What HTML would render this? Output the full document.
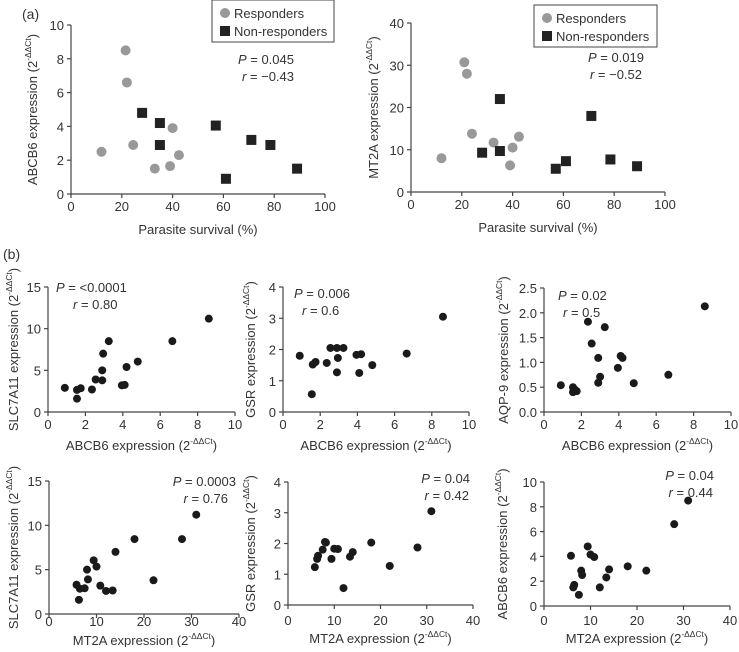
<!DOCTYPE html>
<html><head><meta charset="utf-8"><style>
body{margin:0;background:#fff;}
svg text{font-family:"Liberation Sans","DejaVu Sans",sans-serif;fill:#333;}
</style></head><body>
<svg id="fig" width="739" height="647" viewBox="0 0 739 647" xmlns="http://www.w3.org/2000/svg"></svg>
<script>
// Panel A1 data
const a1RespX=[12,21.5,22,24.5,33,39,40,42.5];
const a1RespY=[2.5,8.5,6.6,2.9,1.5,1.65,3.9,2.3];
const a1NonX=[28,35,35,57,61,71,78.5,89];
const a1NonY=[4.8,4.2,2.9,4.05,0.9,3.2,2.9,1.5];
const a1XTicks=[0,20,40,60,80,100];
const a1YTicks=[0,2,4,6,8,10];
// Panel A2 data
const a2RespX=[12,21,22,24,32.5,39,40,42.5];
const a2RespY=[8,30.7,28,13.8,11.7,6.3,10.5,13.1];
const a2NonX=[28,35,35,57,61,71,78.5,89];
const a2NonY=[9.3,22,9.7,5.5,7.3,18,7.7,6.1];
const a2XTicks=[0,20,40,60,80,100];
const a2YTicks=[0,10,20,30,40];
// Panel B
const abcb6=[0.9,1.55,1.55,1.75,2.35,2.55,2.9,2.9,2.95,3.25,3.95,4.1,4.2,4.8,6.65,8.6];
const b1Slc=[2.9,2.65,1.6,2.85,2.7,3.9,5,3.8,7,8.5,3.2,3.25,5.4,6.05,8.5,11.2];
const b2X=[0.9,1.55,1.6,1.75,2.35,2.55,2.9,2.9,2.95,3.25,3.95,4.2,4.1,4.8,6.65,8.6];
const b2Gsr=[1.8,0.57,1.52,1.6,1.57,2.05,2.05,1.27,1.73,2.05,1.83,1.85,1.25,1.5,1.87,3.05];
const b3X=[0.9,1.55,1.55,1.75,1.65,2.35,2.55,2.9,2.9,3.0,3.25,3.95,4.1,4.2,4.8,6.65,8.6];
const b3Aqp=[0.54,0.5,0.4,0.42,0.45,1.82,1.38,1.09,0.59,0.71,1.71,0.89,1.13,1.09,0.58,0.75,2.13];
const bXTicks=[0,2,4,6,8,10];
const b1YTicks=[0,5,10,15];
const b2YTicks=[0,1,2,3,4];
const b3YTicks=["0.0","0.5","1.0","1.5","2.0","2.5"];
// Panel C
const mt2a=[5.8,6.3,6.5,7.5,8,8.2,9.4,10,10.8,12,13.4,14,18,22,28,31];
const c1Slc=[3.3,1.6,2.85,2.9,5,3.9,6.05,5.35,3.2,2.6,2.65,7,8.45,3.8,8.45,11.2];
const c2Gsr=[1.23,1.5,1.6,1.8,2.05,2.03,1.5,1.83,1.82,0.55,1.57,1.72,2.03,1.27,1.87,3.05];
const c3Abcb6=[4.05,1.5,1.7,0.9,2.85,2.5,4.8,4.15,3.95,1.5,2.3,2.95,3.2,2.85,6.6,8.5];
const cXTicks=[0,10,20,30,40];
const c1YTicks=[0,5,10,15];
const c2YTicks=[0,1,2,3,4];
const c3YTicks=[0,2,4,6,8,10];

const NS="http://www.w3.org/2000/svg";
const svg=document.getElementById('fig');
function mk(tag,attrs,parent,text){const e=document.createElementNS(NS,tag);for(const k in attrs)e.setAttribute(k,attrs[k]);if(text!==undefined)e.textContent=text;(parent||svg).appendChild(e);return e;}
function expTitle(parent,x,y,name,rot,size){
  const t=mk('text',{x:x,y:y,'font-size':size,'text-anchor':'middle',transform:rot?`rotate(-90 ${x} ${y})`:''},parent);
  mk('tspan',{},t,name+' (2');
  mk('tspan',{dy:-6,'font-size':size*0.65},t,'-ΔΔCt');
  mk('tspan',{dy:6},t,')');
  return t;
}
function panel(name,o){
  const g=mk('g',{});
  
  
  const sx=v=>o.x0+(v-o.xmin)/(o.xmax-o.xmin)*(o.x1-o.x0);
  const sy=v=>o.y0-(v-o.ymin)/(o.ymax-o.ymin)*(o.y0-o.y1);
  const ax=mk('g',{stroke:'#444','stroke-width':1.2},g);
  
  
  mk('line',{x1:o.x0,y1:o.y0,x2:o.x1,y2:o.y0},ax);
  mk('line',{x1:o.x0,y1:o.y0,x2:o.x0,y2:o.y1},ax);
  const xlb=o.xlb!==undefined?o.xlb:o.y0+17;
  o.xt.forEach(t=>{const v=+t;mk('line',{x1:sx(v),y1:o.y0,x2:sx(v),y2:o.y0+4},ax);
    const l=mk('text',{x:sx(v),y:xlb,'font-size':o.fs,'text-anchor':'middle'},g,String(t));
    
    });
  o.yt.forEach(t=>{const v=+t;mk('line',{x1:o.x0-4,y1:sy(v),x2:o.x0,y2:sy(v)},ax);
    const l=mk('text',{x:o.x0-7,y:sy(v)+5,'font-size':o.fs,'text-anchor':'end'},g,String(t));
    
    });
  o.series.forEach(s=>{
    s.x.forEach((xv,i)=>{
      let m;
      if(s.shape==='sq'){const h=s.r;m=mk('rect',{x:sx(xv)-h,y:sy(s.y[i])-h,width:2*h,height:2*h,fill:s.c},g);}
      else m=mk('circle',{cx:sx(xv),cy:sy(s.y[i]),r:s.r,fill:s.c},g);
      
      
    });
  });
  const xt=o.xtitle[0]==='exp'?expTitle(g,(o.x0+o.x1)/2,o.xty,o.xtitle[1],false,o.tfs):mk('text',{x:(o.x0+o.x1)/2,y:o.xty,'font-size':o.tfs,'text-anchor':'middle'},g,o.xtitle[1]);
  
  
  const yt=expTitle(g,o.ytx,(o.y0+o.y1)/2,o.ytitle,true,o.tfs);
  
  
  const st=mk('text',{x:o.px,y:o.py,'font-size':o.fs,'text-anchor':o.anchor},g);
  
  
  mk('tspan',{'font-style':'italic'},st,'P');mk('tspan',{},st,' = '+o.p);
  const st2=mk('text',{x:o.rx,y:o.py+17,'font-size':o.fs,'text-anchor':o.anchor},g);
  
  
  mk('tspan',{'font-style':'italic'},st2,'r');mk('tspan',{},st2,' = '+o.r);
  return g;
}
function legend(x,y,w,h){
  const g=mk('g',{});
  
  
  mk('rect',{x:x,y:y,width:w,height:h,fill:'#fff',stroke:'#444','stroke-width':1},g);
  const c=mk('circle',{cx:x+13,cy:y+13,r:5,fill:'#999'},g);
  
  
  mk('text',{x:x+22,y:y+18,'font-size':13},g,'Responders');
  const r=mk('rect',{x:x+8,y:y+26,width:10,height:10,fill:'#222'},g);
  
  
  mk('text',{x:x+22,y:y+36,'font-size':13},g,'Non-responders');
}
const la=mk('text',{x:22,y:19,'font-size':14},svg,'(a)');


const lb=mk('text',{x:3,y:259,'font-size':14},svg,'(b)');



panel('abcb6-vs-survival-chart',{x0:71,x1:325,y0:194,y1:25,xmin:0,xmax:100,ymin:0,ymax:10,xt:a1XTicks,yt:a1YTicks,fs:13,tfs:13,
  series:[{x:a1RespX,y:a1RespY,shape:'c',r:5,c:'#999',n:'responder'},{x:a1NonX,y:a1NonY,shape:'sq',r:5,c:'#222',n:'nonresponder'}],
  xtitle:['t','Parasite survival (%)'],xty:234,ytitle:'ABCB6 expression',ytx:37,px:294,rx:294,py:64,p:'0.045',r:'\u22120.43',anchor:'end'});
legend(212,0,122,42);
panel('mt2a-vs-survival-chart',{x0:411,x1:665,y0:192,y1:23,xmin:0,xmax:100,ymin:0,ymax:40,xt:a2XTicks,yt:a2YTicks,fs:13,tfs:13,
  series:[{x:a2RespX,y:a2RespY,shape:'c',r:5,c:'#999',n:'responder'},{x:a2NonX,y:a2NonY,shape:'sq',r:5,c:'#222',n:'nonresponder'}],
  xtitle:['t','Parasite survival (%)'],xty:232,ytitle:'MT2A expression',ytx:378,px:644,rx:642,py:62,p:'0.019',r:'\u22120.52',anchor:'end'});
legend(534,5,123,42);

const dot='#1a1a1a';
panel('slc7a11-vs-abcb6-chart',{x0:48,x1:235,y0:412,y1:287,xmin:0,xmax:10,ymin:0,ymax:15,xt:bXTicks,yt:b1YTicks,fs:13,tfs:13,
  series:[{x:abcb6,y:b1Slc,shape:'c',r:4,c:dot,n:'sample'}],xtitle:['exp','ABCB6 expression'],xty:450,ytitle:'SLC7A11 expression',ytx:18,
  px:56,rx:73,py:292,p:'<0.0001',r:'0.80',anchor:'start'});
panel('gsr-vs-abcb6-chart',{x0:283,x1:469,y0:412,y1:287,xmin:0,xmax:10,ymin:0,ymax:4,xt:bXTicks,yt:b2YTicks,fs:13,tfs:13,
  series:[{x:b2X,y:b2Gsr,shape:'c',r:4,c:dot,n:'sample'}],xtitle:['exp','ABCB6 expression'],xty:450,ytitle:'GSR expression',ytx:255,
  px:294,rx:302,py:298,p:'0.006',r:'0.6',anchor:'start'});
panel('aqp9-vs-abcb6-chart',{x0:544,x1:731,y0:412,y1:288,xmin:0,xmax:10,ymin:0,ymax:2.5,xt:bXTicks,yt:b3YTicks,fs:13,tfs:13,
  series:[{x:b3X,y:b3Aqp,shape:'c',r:4,c:dot,n:'sample'}],xtitle:['exp','ABCB6 expression'],xty:450,ytitle:'AQP-9 expression',ytx:508,
  px:558,rx:563,py:300,p:'0.02',r:'0.5',anchor:'start'});

panel('slc7a11-vs-mt2a-chart',{x0:49,x1:239,y0:614,y1:481,xmin:0,xmax:40,ymin:0,ymax:15,xt:cXTicks,yt:c1YTicks,fs:13,tfs:13,xlb:626,
  series:[{x:mt2a,y:c1Slc,shape:'c',r:4,c:dot,n:'sample'}],xtitle:['exp','MT2A expression'],xty:645,ytitle:'SLC7A11 expression',ytx:18,
  px:236,rx:228,py:486,p:'0.0003',r:'0.76',anchor:'end'});
panel('gsr-vs-mt2a-chart',{x0:288,x1:473,y0:605,y1:482,xmin:0,xmax:40,ymin:0,ymax:4,xt:cXTicks,yt:c2YTicks,fs:13,tfs:13,xlb:625,
  series:[{x:mt2a,y:c2Gsr,shape:'c',r:4,c:dot,n:'sample'}],xtitle:['exp','MT2A expression'],xty:643,ytitle:'GSR expression',ytx:255,
  px:470,rx:469,py:483,p:'0.04',r:'0.42',anchor:'end'});
panel('abcb6-vs-mt2a-chart',{x0:544,x1:730,y0:606,y1:482,xmin:0,xmax:40,ymin:0,ymax:10,xt:cXTicks,yt:c3YTicks,fs:13,tfs:13,xlb:625,
  series:[{x:mt2a,y:c3Abcb6,shape:'c',r:4,c:dot,n:'sample'}],xtitle:['exp','MT2A expression'],xty:643,ytitle:'ABCB6 expression',ytx:507,
  px:714,rx:713,py:480,p:'0.04',r:'0.44',anchor:'end'});
</script>
</body></html>
